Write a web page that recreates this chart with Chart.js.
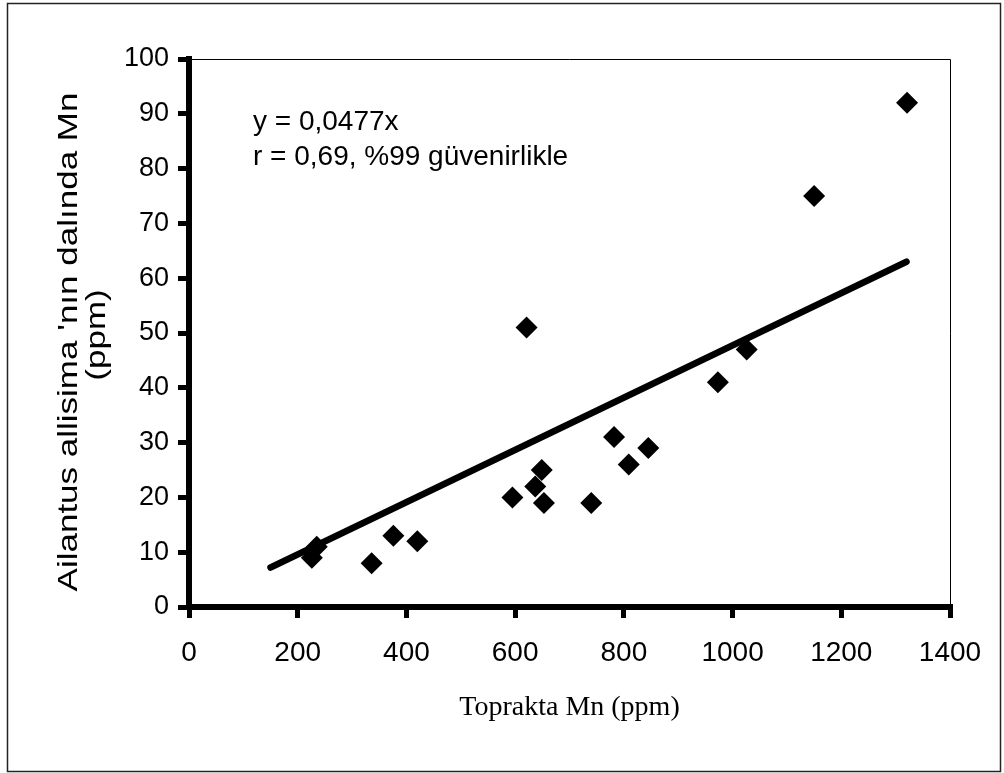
<!DOCTYPE html>
<html>
<head>
<meta charset="utf-8">
<script src="https://cdn.jsdelivr.net/npm/chart.js@4.4.1/dist/chart.umd.min.js"></script>
<style>
  body { margin: 0; background: #fff; }
  .graph-box { width: 1004px; height: 773px; position: relative; }
</style>
</head>
<body>
<div class="graph-box"><canvas id="graph"></canvas></div>
<script>
// soil Mn (x) vs Mn in the branch (y)
const soilMn = [226, 235, 336, 376, 420, 595, 621, 637, 649, 653, 740, 782, 809, 845, 973, 1026, 1150, 1321];
const branchMn = [9, 11, 8, 13, 12, 20, 51, 22, 25, 19, 19, 31, 26, 29, 41, 47, 75, 92];

// regression line y = 0,0477x, drawn from about 150 to 1320
const trendX = [150, 1320];
const trendY = [7.2, 63.0];

const equationLines = ["y = 0,0477x", "r = 0,69, %99 güvenirlikle"];
const xTitle = "Toprakta Mn (ppm)";
const yTitle = ["Ailantus allisima 'nın dalında Mn", "(ppm)"];

const sans = "'Liberation Sans', Arial, sans-serif";
const serif = "'Liberation Serif', 'Times New Roman', serif";

// outer frame, top/right edges of the plot, y title and the equation text
const framePlugin = {
  id: "frame",
  beforeDraw(chart) {
    const ctx = chart.ctx;
    ctx.save();
    ctx.fillStyle = "#fff";
    ctx.fillRect(0, 0, chart.width, chart.height);
    ctx.restore();
  },
  afterDraw(chart) {
    const ctx = chart.ctx;
    const area = chart.chartArea;
    ctx.save();
    ctx.strokeStyle = "#222";
    ctx.lineWidth = 1.5;
    ctx.strokeRect(7.5, 3.5, 993, 768);

    ctx.strokeStyle = "#000";
    ctx.lineWidth = 1;
    ctx.beginPath();
    ctx.moveTo(area.left, area.top + 0.5);
    ctx.lineTo(area.right + 0.5, area.top + 0.5);
    ctx.lineTo(area.right + 0.5, area.bottom);
    ctx.stroke();

    ctx.fillStyle = "#000";
    ctx.font = "28px " + sans;
    ctx.textBaseline = "alphabetic";
    ctx.textAlign = "left";
    ctx.fillText(equationLines[0], 253, 130);
    ctx.fillText(equationLines[1], 253, 165);

    // y axis title, two lines, rotated; the source picture is stretched along the text
    const midY = (area.top + area.bottom) / 2;
    ctx.textAlign = "center";
    ctx.textBaseline = "middle";
    ctx.font = "28px " + sans;
    [[69, midY + 9], [97, midY + 2]].forEach((pos, i) => {
      ctx.save();
      ctx.translate(pos[0], pos[1]);
      ctx.rotate(-Math.PI / 2);
      ctx.scale(1.25, 1);
      ctx.fillText(yTitle[i], 0, 0);
      ctx.restore();
    });
    ctx.restore();
  }
};

const tickGrid = {
  drawOnChartArea: false,
  drawTicks: true,
  tickLength: 11,
  lineWidth: 5,
  color: "#000"
};

const chart = new Chart(document.getElementById("graph"), {
  type: "scatter",
  data: {
    datasets: [
      {
        type: "line",
        data: trendX.map((x, i) => ({ x: x, y: trendY[i] })),
        borderColor: "#000",
        borderWidth: 6.5,
        borderCapStyle: "round",
        pointRadius: 0,
        fill: false,
        order: 2
      },
      {
        data: soilMn.map((x, i) => ({ x: x, y: branchMn[i] })),
        pointStyle: "rectRot",
        pointRadius: 11,
        backgroundColor: "#000",
        borderColor: "#000",
        borderWidth: 0,
        order: 1
      }
    ]
  },
  options: {
    responsive: true,
    maintainAspectRatio: false,
    animation: false,
    layout: { padding: { top: 59, right: 54, bottom: 0, left: 0 } },
    plugins: {
      legend: { display: false },
      tooltip: { enabled: false }
    },
    scales: {
      x: {
        type: "linear",
        min: 0,
        max: 1400,
        ticks: {
          stepSize: 200,
          padding: 18,
          maxRotation: 0,
          autoSkip: false,
          color: "#000",
          font: { family: sans, size: 28 },
          callback: (v) => String(v)
        },
        grid: tickGrid,
        border: { display: true, width: 6, color: "#000" },
        title: {
          display: true,
          text: xTitle,
          color: "#000",
          font: { family: serif, size: 28 },
          padding: { top: 0, bottom: 49 }
        },
        afterFit(scale) { scale.height = 166; }
      },
      y: {
        min: 0,
        max: 100,
        ticks: {
          stepSize: 10,
          padding: 9,
          color: "#000",
          font: { family: sans, size: 27 },
          callback: (v) => String(v)
        },
        grid: tickGrid,
        border: { display: true, width: 6, color: "#000" },
        afterFit(scale) { scale.width = 189; }
      }
    }
  },
  plugins: [framePlugin]
});
</script>
</body>
</html>
